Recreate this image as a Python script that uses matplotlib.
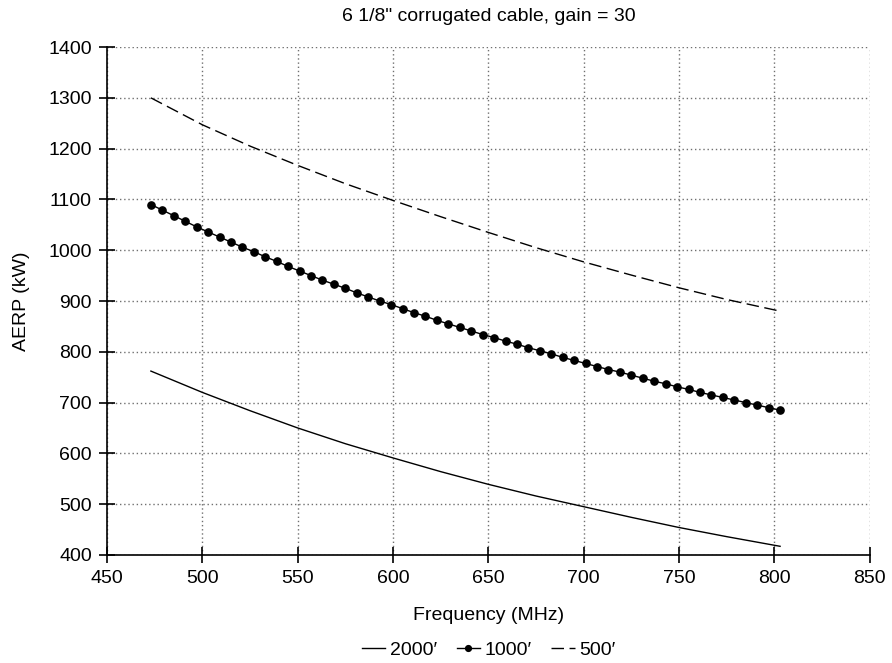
import matplotlib
matplotlib.use("Agg")
import matplotlib.pyplot as plt

plt.rcParams['font.family'] = ['Liberation Sans', 'DejaVu Sans']

# 1000' series: UHF channel centre frequencies (MHz) and AERP (kW)
freq_1000 = [473, 479, 485, 491, 497, 503, 509, 515, 521, 527, 533, 539, 545, 551,
             557, 563, 569, 575, 581, 587, 593, 599, 605, 611, 617, 623, 629, 635,
             641, 647, 653, 659, 665, 671, 677, 683, 689, 695, 701, 707, 713, 719,
             725, 731, 737, 743, 749, 755, 761, 767, 773, 779, 785, 791, 797, 803]
aerp_1000 = [1090, 1079, 1068, 1057, 1046, 1036, 1026, 1016, 1006, 997, 987, 978, 968, 959,
             950, 941, 933, 925, 916, 908, 900, 893, 885, 877, 870, 862, 855, 848,
             841, 834, 828, 821, 815, 808, 802, 796, 789, 783, 777, 771, 765, 760,
             754, 748, 742, 737, 731, 726, 720, 715, 710, 705, 700, 695, 690, 685]

# 2000' and 500' series
freq_curve = [473, 500, 525, 550, 575, 600, 625, 650, 675, 700, 725, 750, 775, 803]
aerp_2000 = [762, 720, 684, 650, 619, 591, 564, 539, 516, 495, 474, 454, 436, 417]
aerp_500 = [1300, 1247, 1205, 1167, 1131, 1098, 1066, 1035, 1005, 977, 951, 926, 903, 880]

labels = ["2000\u2032", "1000\u2032", "500\u2032"]
title = '6 1/8" corrugated cable, gain = 30'
xticks = [450, 500, 550, 600, 650, 700, 750, 800, 850]
yticks = [400, 500, 600, 700, 800, 900, 1000, 1100, 1200, 1300, 1400]

fig = plt.figure(figsize=(8.92, 6.63), dpi=100)
ax = fig.add_axes([0.120, 0.163, 0.855, 0.766])

l1, = ax.plot(freq_curve, aerp_2000, color='black', lw=1.0)
l2, = ax.plot(freq_1000, aerp_1000, color='black', lw=1.0, marker='o', markersize=5.2)
l3, = ax.plot(freq_curve, aerp_500, color='black', lw=1.0, linestyle=(0, (9, 4)))

ax.set_xlim(450, 850)
ax.set_ylim(400, 1400)
ax.set_xticks(xticks)
ax.set_yticks(yticks)
ax.grid(True, color='#707070', linestyle=(0, (1, 2)), linewidth=1.0)
ax.set_axisbelow(True)
for s in ['top', 'right']:
    ax.spines[s].set_visible(False)
for s in ['left', 'bottom']:
    ax.spines[s].set_linewidth(1.2)
ax.tick_params(direction='inout', length=11, width=1.2, labelsize=14, pad=5.5)

ax.set_xlabel('Frequency (MHz)', fontsize=14, labelpad=14)
ax.set_ylabel('AERP (kW)', fontsize=14, labelpad=13)
ax.set_title(title, fontsize=14, pad=19)

fig.legend([l1, l2, l3], labels, loc='center', bbox_to_anchor=(0.548, 0.019),
           ncol=3, frameon=False, fontsize=14, handlelength=1.2,
           handletextpad=0.25, columnspacing=1.0, markerscale=0.8)

fig.savefig('out.png', dpi=100)
